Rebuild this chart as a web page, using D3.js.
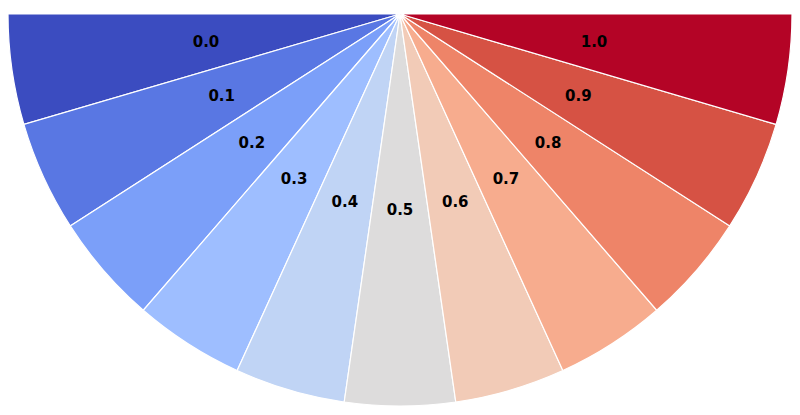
<!DOCTYPE html>
<html><head><meta charset="utf-8">
<script src="https://cdn.jsdelivr.net/npm/d3@7"></script>
<style>body{margin:0;background:#fff}</style></head>
<body><svg width="800" height="415"></svg>
<script>
var labels = ['0.0','0.1','0.2','0.3','0.4','0.5','0.6','0.7','0.8','0.9','1.0'];
var values = [1,1,1,1,1,1,1,1,1,1,1];
var colors = ['#3b4cc0','#5977e3','#7b9ff9','#9ebeff','#c0d4f5','#dddcdc','#f2cbb7','#f7ac8e','#ee8468','#d65244','#b40426'];

var svg = d3.select('svg');
var cx = 400, cy = 14, r = 392;
var g = svg.append('g').attr('transform', 'translate(' + cx + ',' + cy + ')');

var pie = d3.pie().sort(null).startAngle(1.5 * Math.PI).endAngle(0.5 * Math.PI);
var arcs = pie(values);
var arc = d3.arc().innerRadius(0).outerRadius(r);
var labelArc = d3.arc().innerRadius(r / 2).outerRadius(r / 2);

g.selectAll('path').data(arcs).enter().append('path')
  .attr('d', arc)
  .attr('fill', function(d, i) { return colors[i]; })
  .attr('stroke', '#fff').attr('stroke-width', 1.2);

g.selectAll('text').data(arcs).enter().append('text')
  .attr('transform', function(d) { return 'translate(' + labelArc.centroid(d) + ')'; })
  .attr('text-anchor', 'middle').attr('dy', '0.35em')
  .style('font-family', 'DejaVu Sans').style('font-weight', 'bold').style('font-size', '15px')
  .text(function(d, i) { return labels[i]; });
</script></body></html>
